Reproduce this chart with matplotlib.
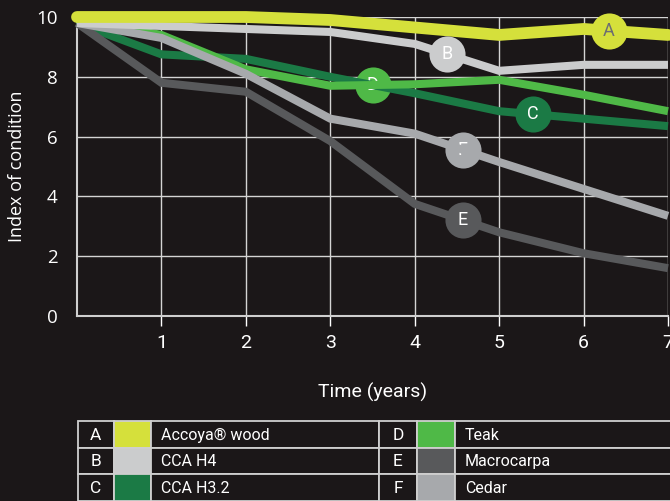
import numpy as np
import matplotlib
matplotlib.use('Agg')
import matplotlib.pyplot as plt
from matplotlib.patches import Rectangle

# condition index per year (0..7)
years = [0, 1, 2, 3, 4, 5, 6, 7]
accoya = [10.0, 10.0, 10.0, 9.9, 9.65, 9.4, 9.6, 9.4]
cca_h4 = [9.8, 9.7, 9.6, 9.5, 9.1, 8.2, 8.4, 8.4]
cca_h32 = [9.8, 8.75, 8.6, 8.0, 7.45, 6.85, 6.6, 6.35]
teak = [9.9, 9.4, 8.25, 7.7, 7.75, 7.9, 7.4, 6.85]
macrocarpa = [9.8, 7.8, 7.5, 5.85, 3.75, 2.8, 2.1, 1.6]
cedar = [9.8, 9.3, 8.1, 6.6, 6.1, 5.15, 4.25, 3.35]

letters = ['A', 'B', 'C', 'D', 'E', 'F']
names = ['Accoya® wood', 'CCA H4', 'CCA H3.2', 'Teak', 'Macrocarpa', 'Cedar']
series = [accoya, cca_h4, cca_h32, teak, macrocarpa, cedar]
colors = ['#d5e03b', '#cbcccd', '#1b7a45', '#4fb947', '#58595b', '#a7a9ac']
label_x = [6.3, 4.38, 5.4, 3.5, 4.57, 4.57]

BG = '#1b1718'
GRID = '#d4d4d4'
NARROW = ['Roboto', 'DejaVu Sans']
PLAIN = ['Open Sans', 'DejaVu Sans']

fig = plt.figure(figsize=(6.7, 5.01), dpi=100, facecolor=BG)
ax = fig.add_axes([77 / 670, 1 - 316 / 501, 591 / 670, 299 / 501])
ax.set_facecolor(BG)
ax.set_xlim(0, 7)
ax.set_ylim(0, 10)

# grid
for x in range(1, 8):
    ax.axvline(x, color=GRID, lw=1.0, zorder=1)
for y in range(2, 11, 2):
    ax.axhline(y, color=GRID, lw=1.0, zorder=1)

for side in ['top', 'right']:
    ax.spines[side].set_visible(False)
for side in ['left', 'bottom']:
    ax.spines[side].set_color('#cfcfcf')
    ax.spines[side].set_linewidth(1.5)

# draw order: C, D, E, F, B, A (A on top)
order = [2, 3, 4, 5, 1, 0]
for z, i in enumerate(order):
    lw = 8.5 if i == 0 else 5.8
    cap = 'round' if i == 0 else 'butt'
    ax.plot(years, series[i], color=colors[i], lw=lw, solid_capstyle=cap,
            solid_joinstyle='miter', zorder=3 + z, clip_on=False)

# circular labels on each line
for i in range(6):
    yv = np.interp(label_x[i], years, series[i])
    # D and F sit under the lines, the rest on top
    z = 2.5 if i in (3, 5) else 12
    ax.plot(label_x[i], yv, 'o', ms=26, color=colors[i], mec='none',
            zorder=z, clip_on=False)
    tc = '#6d6e71' if i == 0 else 'white'
    ax.text(label_x[i], yv, letters[i], color=tc, fontsize=13,
            ha='center', va='center', zorder=z + 0.1, family=NARROW)

ax.set_xticks(range(1, 8))
ax.set_xticklabels([str(v) for v in range(1, 8)], family=NARROW, fontsize=14)
ax.set_yticks(range(0, 11, 2))
ax.set_yticklabels([str(v) for v in range(0, 11, 2)], family=PLAIN,
                   fontsize=13.5)
ax.tick_params(axis='x', colors='white', length=7, width=1, pad=6,
               labelcolor='white')
ax.tick_params(axis='y', length=0, pad=14, labelcolor='white')
ax.set_xlabel('Time (years)', color='white', fontsize=14, family=NARROW,
              labelpad=22)
ax.set_ylabel('Index of condition', color='white', fontsize=13,
              family=PLAIN, labelpad=7)

# key table at the bottom
tab = fig.add_axes([0, 0, 1, 1], facecolor='none')
tab.set_xlim(0, 670)
tab.set_ylim(501, 0)
tab.axis('off')
col_edges = [[77.5, 114, 151, 379], [379, 417, 455, 690]]
row_edges = [421, 447.5, 474, 500.5]
for k in range(6):
    c0, c1, c2, c3 = col_edges[k // 3]
    r0, r1 = row_edges[k % 3], row_edges[k % 3 + 1]
    h = r1 - r0
    tab.add_patch(Rectangle((c0, r0), c1 - c0, h, fc=BG, ec='#cfcfcf', lw=1.3))
    tab.add_patch(Rectangle((c1, r0), c2 - c1, h, fc=colors[k], ec='#cfcfcf', lw=1.3))
    tab.add_patch(Rectangle((c2, r0), c3 - c2, h, fc=BG, ec='#cfcfcf', lw=1.3))
    tab.text((c0 + c1) / 2, (r0 + r1) / 2 + 1, letters[k], color='white',
             fontsize=12.5, ha='center', va='center', family=NARROW)
    tab.text(c2 + 10, (r0 + r1) / 2 + 1, names[k], color='white',
             fontsize=11.5, ha='left', va='center', family=NARROW)

fig.savefig('out.png', dpi=100, facecolor=BG)
